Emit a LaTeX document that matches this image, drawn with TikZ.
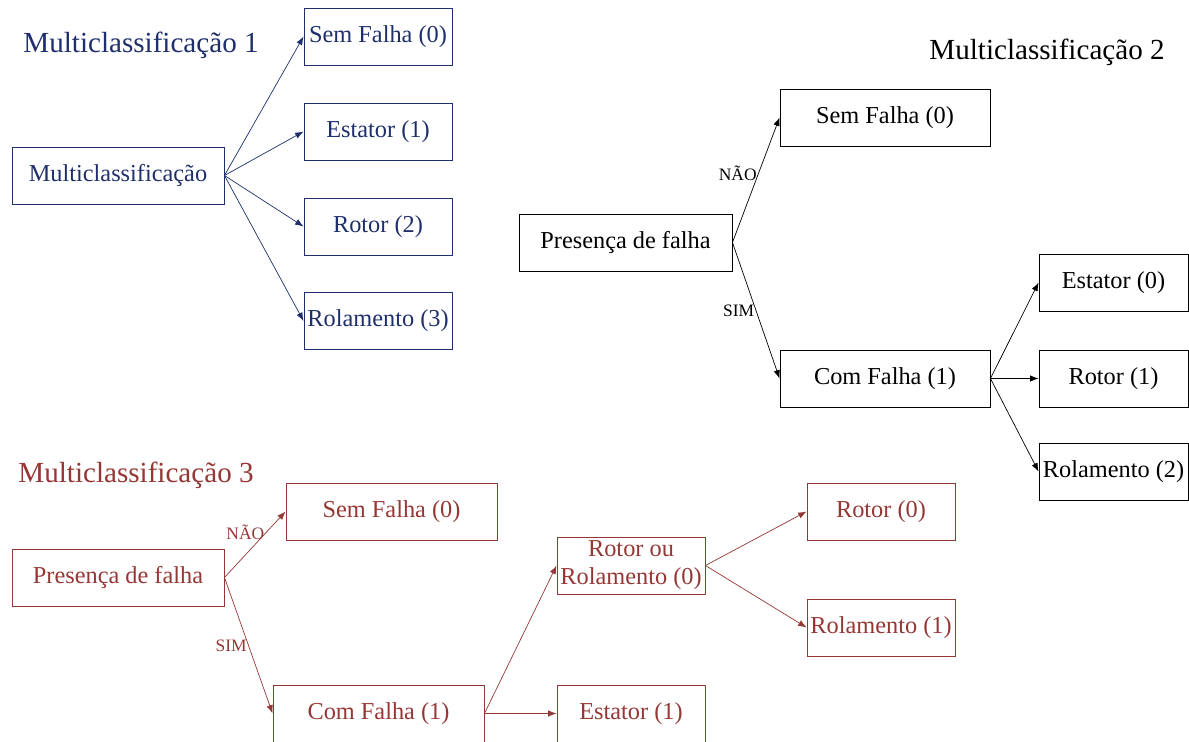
\documentclass[tikz,border=0pt]{standalone}
\usepackage{fontspec}
\setmainfont{Liberation Serif}
\usepackage{tikz}
\usetikzlibrary{arrows.meta}
\definecolor{az}{HTML}{1F2F6B}
\definecolor{vm}{HTML}{953735}
\tikzset{
  caixa/.style={draw,line width=0.6pt,minimum height=1.425cm,inner sep=1pt,
    font=\fontsize{17.3}{19.9}\selectfont,align=center},
  titulo/.style={font=\fontsize{20.7}{24}\selectfont},
  rotulo/.style={font=\fontsize{12.4}{14}\selectfont,inner sep=1pt},
  seta/.style={-{Latex[length=6pt,width=4.5pt]},line width=0.5pt}
}
\begin{document}
\begin{tikzpicture}[x=0.025cm,y=-0.025cm]
            \useasboundingbox (0,0) rectangle (1189,742);
            \clip (0,0) rectangle (1189,742);
            % Multiclassificacao 1
            \begin{scope}[color=az]
            \node[titulo] (t1) at (141,45) {Multiclassificação 1};
            \node[caixa,minimum width=5.3cm] (mc) at (118,175.5) {Multiclassificação};
            \node[caixa,minimum width=3.7cm] (a0) at (378,36.5) {Sem Falha (0)};
            \node[caixa,minimum width=3.7cm] (a1) at (378,131.5) {Estator (1)};
            \node[caixa,minimum width=3.7cm] (a2) at (378,226.5) {Rotor (2)};
            \node[caixa,minimum width=3.7cm] (a3) at (378,321) {Rolamento (3)};
            \foreach \n in {a0,a1,a2,a3}
              \draw[seta] (mc.east) -- (\n.west);
            \end{scope}
            % Multiclassificacao 2
            \node[titulo] (t2) at (1047,52) {Multiclassificação 2};
            \node[caixa,minimum width=5.325cm] (p2) at (625.5,242.5) {Presença de falha};
            \node[caixa,minimum width=5.25cm] (s2) at (885,117.5) {Sem Falha (0)};
            \node[caixa,minimum width=5.25cm] (c2) at (885,378.5) {Com Falha (1)};
            \node[caixa,minimum width=3.725cm] (e2) at (1113.5,282.5) {Estator (0)};
            \node[caixa,minimum width=3.725cm] (r2) at (1113.5,378.5) {Rotor (1)};
            \node[caixa,minimum width=3.725cm] (l2) at (1113.5,471.5) {Rolamento (2)};
            \draw[seta] (p2.east) -- node[rotulo,pos=0.55,left]{NÃO} (s2.west);
            \draw[seta] (p2.east) -- node[rotulo,pos=0.5,left]{SIM} (c2.west);
            \foreach \n in {e2,r2,l2}
              \draw[seta] (c2.east) -- (\n.west);
            % Multiclassificacao 3
            \begin{scope}[color=vm]
            \node[titulo] (t3) at (136,475) {Multiclassificação 3};
            \node[caixa,minimum width=5.3cm] (p3) at (118,577.5) {Presença de falha};
            \node[caixa,minimum width=5.275cm] (s3) at (391.5,511.5) {Sem Falha (0)};
            \node[caixa,minimum width=5.275cm] (c3) at (378.5,713.5) {Com Falha (1)};
            \node[caixa,minimum width=3.7cm] (e3) at (631,713.5) {Estator (1)};
            \node[caixa,minimum width=3.7cm] (rr3) at (631,565.5) {Rotor ou\\Rolamento (0)};
            \node[caixa,minimum width=3.7cm] (r3) at (881,511.5) {Rotor (0)};
            \node[caixa,minimum width=3.7cm] (l3) at (881,627.5) {Rolamento (1)};
            \draw[seta] (p3.east) -- node[rotulo,pos=0.68,left]{NÃO} (s3.west);
            \draw[seta] (p3.east) -- node[rotulo,pos=0.5,left]{SIM} (c3.west);
            \draw[seta] (c3.east) -- (rr3.west);
            \draw[seta] (c3.east) -- (e3.west);
            \draw[seta] (rr3.east) -- (r3.west);
            \draw[seta] (rr3.east) -- (l3.west);
            \end{scope}
          \end{tikzpicture}
\end{document}
